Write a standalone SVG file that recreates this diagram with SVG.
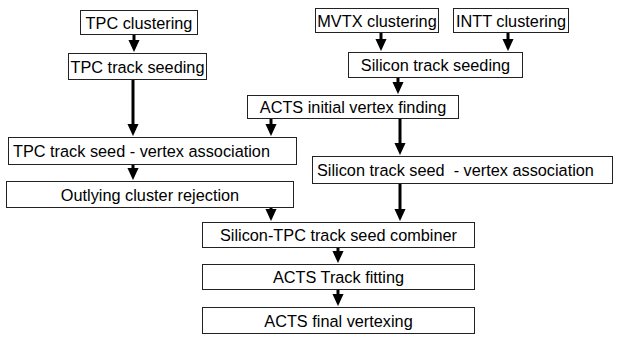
<svg xmlns="http://www.w3.org/2000/svg" width="617" height="338" viewBox="0 0 617 338">
<defs>
<style>
.box{fill:#fff;stroke:#222;stroke-width:1}
.t{font-family:"Liberation Sans",Arial,sans-serif;font-size:16.3px;fill:#000;dominant-baseline:central}
.c{text-anchor:middle}
.s{text-anchor:start}
.e{stroke:#000;stroke-width:3;fill:none}
</style>
<marker id="ah" markerUnits="userSpaceOnUse" markerWidth="12" markerHeight="13" viewBox="0 0 13 12" refX="1" refY="6" orient="auto">
<path d="M0,0 L13,6 L0,12 Z" fill="#000"/>
</marker>
</defs>
<rect width="617" height="338" fill="#fff"/>
<g id="connectors">
<line class="e" x1="134" y1="34" x2="134" y2="41" marker-end="url(#ah)"/>
<line class="e" x1="133" y1="80" x2="133" y2="125" marker-end="url(#ah)"/>
<line class="e" x1="381" y1="32" x2="381" y2="40" marker-end="url(#ah)"/>
<line class="e" x1="508" y1="32" x2="508" y2="40" marker-end="url(#ah)"/>
<line class="e" x1="398" y1="77" x2="398" y2="83" marker-end="url(#ah)"/>
<line class="e" x1="271" y1="118" x2="271" y2="125" marker-end="url(#ah)"/>
<line class="e" x1="400" y1="118" x2="400" y2="144" marker-end="url(#ah)"/>
<line class="e" x1="133" y1="165" x2="133" y2="169" marker-end="url(#ah)"/>
<line class="e" x1="271" y1="208" x2="271" y2="210" marker-end="url(#ah)"/>
<line class="e" x1="400" y1="184" x2="400" y2="210" marker-end="url(#ah)"/>
<line class="e" x1="338" y1="247" x2="338" y2="252" marker-end="url(#ah)"/>
<line class="e" x1="338" y1="289" x2="338" y2="295" marker-end="url(#ah)"/>
</g>
<g id="tpc-clustering"><rect class="box" x="80.5" y="10.5" width="117" height="24"/><text class="t c" x="139" y="22.5">TPC clustering</text></g>
<g id="tpc-track-seeding"><rect class="box" x="68.5" y="53.5" width="138" height="26"/><text class="t c" x="137.5" y="66.5">TPC track seeding</text></g>
<g id="mvtx-clustering"><rect class="box" x="315.5" y="8.5" width="123" height="24"/><text class="t c" x="377" y="20.5">MVTX clustering</text></g>
<g id="intt-clustering"><rect class="box" x="453.5" y="8.5" width="115" height="24"/><text class="t c" x="511" y="20.5">INTT clustering</text></g>
<g id="silicon-track-seeding"><rect class="box" x="348.5" y="52.5" width="174" height="25"/><text class="t c" x="435.5" y="65">Silicon track seeding</text></g>
<g id="acts-initial-vertex"><rect class="box" x="247.5" y="95.5" width="211" height="23"/><text class="t c" x="353" y="107">ACTS initial vertex finding</text></g>
<g id="tpc-seed-vertex"><rect class="box" x="8.5" y="137.5" width="288" height="27"/><text class="t s" x="13" y="151">TPC track seed - vertex association</text></g>
<g id="silicon-seed-vertex"><rect class="box" x="312.5" y="156.5" width="300" height="27"/><text class="t s" x="317" y="170" xml:space="preserve">Silicon track seed  - vertex association</text></g>
<g id="outlying-cluster"><rect class="box" x="6.5" y="181.5" width="287" height="26"/><text class="t c" x="150" y="194.5">Outlying cluster rejection</text></g>
<g id="combiner"><rect class="box" x="202.5" y="222.5" width="272" height="25"/><text class="t c" x="338.5" y="235">Silicon-TPC track seed combiner</text></g>
<g id="track-fitting"><rect class="box" x="202.5" y="264.5" width="272" height="25"/><text class="t c" x="338.5" y="277">ACTS Track fitting</text></g>
<g id="final-vertexing"><rect class="box" x="202.5" y="307.5" width="272" height="26"/><text class="t c" x="338.5" y="320.5">ACTS final vertexing</text></g>
</svg>
